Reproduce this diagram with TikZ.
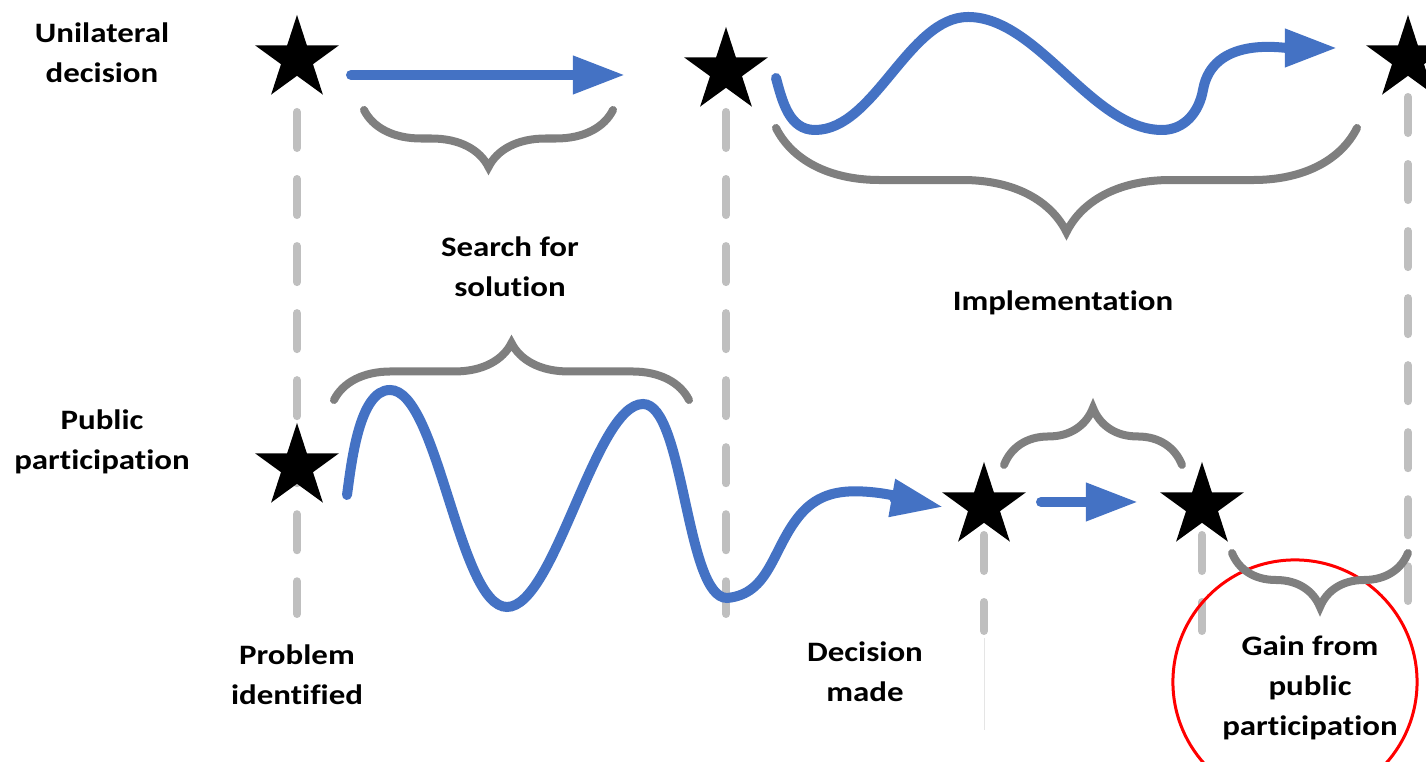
\documentclass[tikz,border=0pt]{standalone}
\usepackage{fontspec}
\setmainfont{Carlito}[FakeStretch=1.17, Ligatures=NoCommon]
\usepackage{xcolor}
\usepackage{tikz}
\usetikzlibrary{shapes.geometric, arrows.meta, positioning, decorations.pathreplacing}
\definecolor{flowblue}{HTML}{4472C4}
\definecolor{bracegray}{HTML}{7F7F7F}
\definecolor{guidegray}{HTML}{BFBFBF}
\tikzstyle{milestone} = [star, star points=5, star point ratio=2.618, minimum size=0.88cm, inner sep=0pt, fill=black]
\tikzstyle{txt} = [align=center, font=\fontsize{8}{11.4}\selectfont\bfseries, text=black]
\tikzstyle{guide} = [draw=guidegray, line width=0.08cm, line cap=round, dash pattern=on 0.36cm off 0.31cm]
\tikzstyle{phase} = [draw=bracegray, line width=0.08cm, line cap=round, decorate]
\tikzstyle{wave} = [draw=flowblue, line width=0.1cm, line cap=round]
\tikzstyle{flow} = [wave, -{Triangle[length=0.52cm, width=0.36cm]}]
\tikzstyle{ring} = [circle, draw=red, line width=0.03cm, minimum size=2.44cm, inner sep=0pt]

\begin{document}
\begin{tikzpicture}[x=0.01cm, y=0.01cm]
\useasboundingbox (0,0) rectangle (1426,-762);

\coordinate (g1a) at (297,-112);  \coordinate (g1b) at (297,-614);
\coordinate (g2a) at (726,-112);  \coordinate (g2b) at (726,-614);
\coordinate (g3a) at (1408,-97);  \coordinate (g3b) at (1408,-601);
\coordinate (g4a) at (984,-535);  \coordinate (g4b) at (984,-631);
\coordinate (g5a) at (1202,-535); \coordinate (g5b) at (1202,-631);
\coordinate (g4c) at (984,-638);  \coordinate (g4d) at (984,-730);

\draw [guide] (g1a) -- (g1b);
\draw [guide] (g2a) -- (g2b);
\draw [guide] (g3a) -- (g3b);
\draw [guide] (g4a) -- (g4b);
\draw [guide] (g5a) -- (g5b);
\draw [guidegray!40, line width=0.01cm] (g4c) -- (g4d);

\node (s1) [milestone] at (297,-59) {};
\node (s2) [milestone] at (726,-71) {};
\node (s3) [milestone] at (1408,-59) {};
\node (s4) [milestone] at (297,-467) {};
\node (s5) [milestone] at (984,-506) {};
\node (s6) [milestone] at (1202,-506) {};

\node (uni) [txt] at (102,-53) {Unilateral\\decision};
\node (pub) [txt] at (102,-442) {Public\\participation};
\node (search) [txt] at (510,-267) {Search for\\solution};
\node (impl) [txt] at (1063,-303) {Implementation};
\node (prob) [txt] at (297,-675) {Problem\\identified};
\node (dec) [txt] at (865,-672) {Decision\\made};
\node (gain) [txt] at (1310,-688) {Gain from\\public\\participation};
\node (ring) [ring] at (1295,-682) {};

\coordinate (a1s) at (351,-75);   \coordinate (a1e) at (625,-75);
\coordinate (a4s) at (1041,-502); \coordinate (a4e) at (1138,-502);
\draw [flow] (a1s) -- (a1e);
\draw [flow] (a4s) -- (a4e);

\draw [flow] (776,-78) to[out=-75,in=180] (815,-130)
  to[out=0,in=180,looseness=0.8] (968,-17)
  to[out=0,in=180,looseness=0.8] (1162,-130)
  to[out=0,in=-100] (1203,-90)
  to[out=80,in=180] (1337,-48);

\draw [flow] (347,-495) to[out=82,in=180,looseness=0.7] (390,-390)
  to[out=0,in=180,looseness=0.5] (507,-607)
  to[out=0,in=180,looseness=0.5] (643,-404)
  to[out=0,in=180,looseness=0.5] (727,-598)
  to[out=5,in=230] (800,-515)
  to[out=50,in=175] (870,-492)
  to[out=-5,in=170] (943,-507);

\coordinate (b1l) at (364,-110);  \coordinate (b1r) at (613,-110);
\coordinate (b2l) at (776,-128);  \coordinate (b2r) at (1357,-128);
\coordinate (b3l) at (334,-400);  \coordinate (b3r) at (689,-400);
\coordinate (b4l) at (1004,-465); \coordinate (b4r) at (1182,-465);
\coordinate (b5l) at (1232,-553); \coordinate (b5r) at (1408,-553);
\draw [phase, decoration={brace, amplitude=0.57cm}] (b1r) -- (b1l);
\draw [phase, decoration={brace, amplitude=1.04cm}] (b2r) -- (b2l);
\draw [phase, decoration={brace, amplitude=0.57cm}] (b3l) -- (b3r);
\draw [phase, decoration={brace, amplitude=0.57cm}] (b4l) -- (b4r);
\draw [phase, decoration={brace, amplitude=0.54cm}] (b5r) -- (b5l);

\end{tikzpicture}
\end{document}
